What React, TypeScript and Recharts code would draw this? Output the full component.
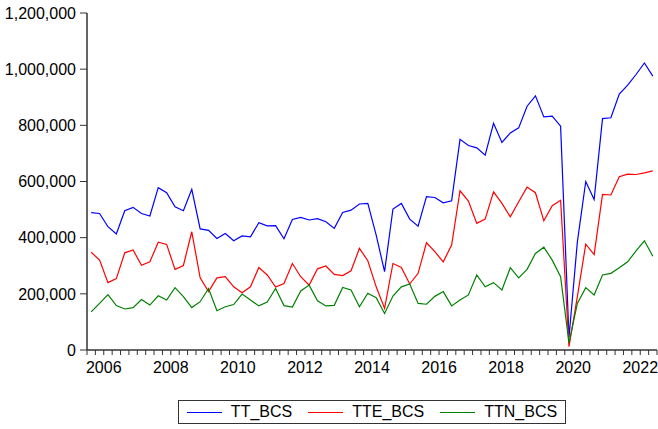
import { LineChart, Line, XAxis, YAxis } from 'recharts';

// quarterly, 2006Q1 .. 2022Q4
const YEARS = [2006, 2007, 2008, 2009, 2010, 2011, 2012, 2013, 2014, 2015, 2016, 2017, 2018, 2019, 2020, 2021, 2022];
const QUARTERS = ['Q1', 'Q2', 'Q3', 'Q4'];

const TT_BCS = [
  489000, 486000, 439000, 413000, 496000, 508000, 486000, 477000, 578000, 560000,
  510000, 496000, 572000, 431000, 426000, 397000, 415000, 389000, 406000, 403000,
  453000, 442000, 443000, 396000, 465000, 472000, 463000, 468000, 457000, 433000,
  490000, 498000, 520000, 522000, 409000, 279000, 502000, 522000, 466000, 441000,
  546000, 543000, 524000, 531000, 750000, 728000, 720000, 694000, 807000, 739000,
  773000, 791000, 868000, 905000, 830000, 833000, 797000, 45000, 385000, 600000,
  536000, 824000, 827000, 911000, 943000, 981000, 1022000, 975000,
];
const TTE_BCS = [
  348000, 320000, 240000, 254000, 346000, 356000, 302000, 314000, 384000, 376000,
  287000, 301000, 421000, 257000, 208000, 257000, 261000, 225000, 204000, 225000,
  294000, 267000, 224000, 237000, 308000, 261000, 231000, 289000, 299000, 269000,
  265000, 282000, 362000, 318000, 225000, 148000, 308000, 294000, 235000, 273000,
  382000, 350000, 314000, 374000, 567000, 530000, 451000, 466000, 563000, 522000,
  474000, 528000, 580000, 560000, 460000, 514000, 533000, 12000, 190000, 377000,
  340000, 554000, 552000, 617000, 626000, 625000, 631000, 638000,
];
const TTN_BCS = [
  136000, 166000, 197000, 158000, 146000, 151000, 180000, 160000, 193000, 178000,
  222000, 190000, 151000, 172000, 219000, 140000, 154000, 162000, 199000, 178000,
  157000, 171000, 219000, 158000, 153000, 210000, 231000, 175000, 157000, 159000,
  223000, 214000, 154000, 202000, 186000, 130000, 192000, 225000, 235000, 166000,
  163000, 191000, 208000, 157000, 178000, 196000, 267000, 225000, 240000, 214000,
  293000, 257000, 287000, 344000, 366000, 320000, 261000, 25000, 166000, 222000,
  196000, 267000, 273000, 293000, 314000, 353000, 389000, 334000,
];

const Y_TICKS = [0, 200000, 400000, 600000, 800000, 1000000, 1200000];
const YEAR_LABELS = [2006, 2008, 2010, 2012, 2014, 2016, 2018, 2020, 2022];

const SERIES = [
  { key: 'TT_BCS', color: '#0000ff' },
  { key: 'TTE_BCS', color: '#ff0000' },
  { key: 'TTN_BCS', color: '#008000' },
];

// each observation sits in the middle of its quarter
const data = YEARS.flatMap((y, yi) =>
  QUARTERS.map((q, qi) => {
    const i = yi * 4 + qi;
    return {
      period: `${y}${q}`,
      t: y + (qi + 0.5) / 4,
      TT_BCS: TT_BCS[i],
      TTE_BCS: TTE_BCS[i],
      TTN_BCS: TTN_BCS[i],
    };
  })
);

const X_DOMAIN = [YEARS[0], YEARS[YEARS.length - 1] + 1];
const quarterTicks = YEARS.flatMap((y) => [0, 1, 2, 3].map((k) => y + k / 4)).concat(X_DOMAIN[1]);
const labelTicks = YEAR_LABELS.map((y) => y + 0.5);

const FONT = '"Liberation Sans", Arial, sans-serif';
const FRAME = '#333';

export default function App() {
  return (
    <div style={{ position: 'absolute', left: 0, top: 0, width: 658, height: 429, background: '#fff', fontFamily: FONT }}>
      <LineChart width={658} height={429} data={data} margin={{ top: 13, right: 1, bottom: 49, left: 0 }}>
        <XAxis
          xAxisId="q"
          dataKey="t"
          type="number"
          domain={X_DOMAIN}
          ticks={quarterTicks}
          tickFormatter={() => ''}
          height={6}
          tickSize={5}
          axisLine={{ stroke: FRAME, strokeWidth: 1.5 }}
          tickLine={{ stroke: FRAME }}
          allowDecimals
        />
        <XAxis
          xAxisId="yr"
          dataKey="t"
          type="number"
          domain={X_DOMAIN}
          ticks={labelTicks}
          tickFormatter={(v: number) => String(Math.floor(v))}
          height={24}
          axisLine={false}
          tickLine={false}
          tickSize={0}
          tickMargin={6}
          tick={{ fill: '#000', fontSize: 16, fontFamily: FONT }}
          interval={0}
        />
        <XAxis
          xAxisId="top"
          orientation="top"
          dataKey="t"
          type="number"
          domain={X_DOMAIN}
          height={0}
          tick={false}
          tickLine={false}
          axisLine={{ stroke: FRAME, strokeWidth: 1.5 }}
        />
        <YAxis
          yAxisId="v"
          domain={[0, 1200000]}
          ticks={Y_TICKS}
          width={87}
          tickSize={7}
          tickMargin={4}
          interval={0}
          tickFormatter={(v: number) => v.toLocaleString('en-US')}
          tick={{ fill: '#000', fontSize: 16, fontFamily: FONT }}
          axisLine={{ stroke: FRAME, strokeWidth: 1.5 }}
          tickLine={{ stroke: FRAME }}
        />
        <YAxis
          yAxisId="r"
          orientation="right"
          domain={[0, 1200000]}
          width={0}
          tick={false}
          tickLine={false}
          axisLine={{ stroke: FRAME, strokeWidth: 1.5 }}
        />
        {SERIES.map((s) => (
          <Line
            key={s.key}
            xAxisId="q"
            yAxisId="v"
            dataKey={s.key}
            stroke={s.color}
            strokeWidth={1.2}
            dot={false}
            type="linear"
            isAnimationActive={false}
          />
        ))}
      </LineChart>
      <div
        style={{
          position: 'absolute',
          left: 178,
          top: 400,
          width: 388,
          height: 24,
          border: `1px solid ${FRAME}`,
          boxSizing: 'border-box',
          display: 'flex',
          alignItems: 'center',
          justifyContent: 'center',
          gap: 16,
          fontSize: 16,
          color: '#000',
        }}
      >
        {SERIES.map((s) => (
          <div key={s.key} style={{ display: 'flex', alignItems: 'center' }}>
            <div style={{ width: 35, height: 1, background: s.color, marginRight: 9 }} />
            <span>{s.key}</span>
          </div>
        ))}
      </div>
    </div>
  );
}
